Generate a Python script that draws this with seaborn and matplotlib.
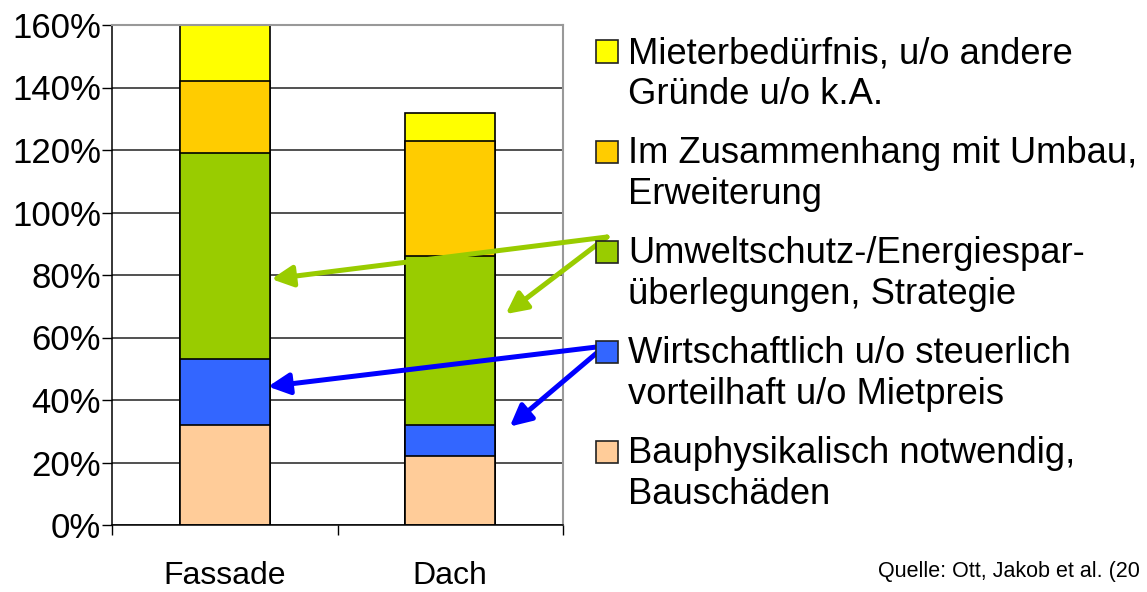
import numpy as np
import pandas as pd
import matplotlib
matplotlib.use('Agg')
import matplotlib.pyplot as plt
import seaborn as sns
from matplotlib.patches import Rectangle

# data (percent, stacked from bottom to top)
categories = ['Fassade', 'Dach']
bauphysik = [32, 22]
wirtschaft = [21, 10]
umwelt = [66, 54]
umbau = [23, 37]
mieter = [18, 9]

series_labels = [
    'Bauphysikalisch notwendig,\nBauschäden',
    'Wirtschaftlich u/o steuerlich\nvorteilhaft u/o Mietpreis',
    'Umweltschutz-/Energiespar-\nüberlegungen, Strategie',
    'Im Zusammenhang mit Umbau,\nErweiterung',
    'Mieterbedürfnis, u/o andere\nGründe u/o k.A.',
]
series_colors = ['#FFCC99', '#3366FF', '#99CC00', '#FFCC00', '#FFFF00']
yticks = [0, 20, 40, 60, 80, 100, 120, 140, 160]

sns.set_style('white')
plt.rcParams['font.family'] = ['Liberation Sans', 'DejaVu Sans']
plt.rcParams['text.color'] = 'black'
plt.rcParams['xtick.color'] = 'black'
plt.rcParams['ytick.color'] = 'black'

W, H = 1147, 592
fig = plt.figure(figsize=(W / 100, H / 100), dpi=100)
ax = fig.add_axes([112 / W, 67 / H, 451 / W, 500 / H])

layers = [bauphysik, wirtschaft, umwelt, umbau, mieter]
cum = np.cumsum(layers, axis=0)

# draw cumulative bars from the tallest down so each segment shows
for i in reversed(range(len(layers))):
    df = pd.DataFrame({'Kategorie': categories, 'Wert': cum[i]})
    sns.barplot(data=df, x='Kategorie', y='Wert', color=series_colors[i],
                saturation=1, width=0.4, edgecolor='black', linewidth=1.2,
                errorbar=None, ax=ax, zorder=2)

ax.set_xlim(-0.5, 1.5)
ax.set_ylim(0, 160)
ax.set_yticks(yticks)
ax.set_yticklabels([f'{v}%' for v in yticks], fontsize=25)
ax.set_xlabel('')
ax.set_ylabel('')
ax.yaxis.grid(True, color='#222222', linewidth=1.1)
ax.xaxis.grid(False)
ax.set_axisbelow(True)

ax.tick_params(axis='y', length=7, width=1, color='black', pad=1, left=True)
ax.tick_params(axis='x', which='major', length=0, pad=26, labelsize=23)
ax.set_xticks([-0.5, 0.5, 1.5], minor=True)
ax.tick_params(axis='x', which='minor', length=7, width=1, color='black',
               bottom=True, direction='out')

for side in ['left', 'bottom']:
    ax.spines[side].set_color('black')
    ax.spines[side].set_linewidth(1.1)
for side in ['top', 'right']:
    ax.spines[side].set_color('#999999')
    ax.spines[side].set_linewidth(1.5)

# legend drawn by hand (top entry first)
for k, i in enumerate(reversed(range(len(layers)))):
    base = 63.5 + 100 * k
    fig.add_artist(Rectangle((596 / W, 1 - (base - 1) / H), 22 / W, 22 / H,
                             transform=fig.transFigure, facecolor=series_colors[i],
                             edgecolor='#222222', linewidth=1.2))
    # baseline alignment refers to the last line of a multi-line text
    fig.text(628 / W, 1 - (base + 40) / H, series_labels[i], fontsize=26.2,
             va='baseline', ha='left', linespacing=1.2)

# arrows from legend keys to segments
green_start = (607, H - 237)
blue_start = (605, H - 346)
arrow_specs = [
    (green_start, (0.207, 78.7), '#99CC00'),
    (green_start, (1.246, 67.5), '#99CC00'),
    (blue_start, (0.192, 44.3), '#0000FF'),
    (blue_start, (1.264, 31.5), '#0000FF'),
]
for start, tip, col in arrow_specs:
    ax.annotate('', xy=tip, xycoords='data', xytext=start,
                textcoords='figure pixels', annotation_clip=False,
                arrowprops=dict(arrowstyle='-|>', color=col, lw=3.6,
                                mutation_scale=32, shrinkA=0, shrinkB=0))

fig.text(878 / W, 1 - 577 / H, 'Quelle: Ott, Jakob et al. (20', fontsize=15.5,
         va='baseline', ha='left')

fig.savefig('out.png', dpi=100, facecolor='white')
